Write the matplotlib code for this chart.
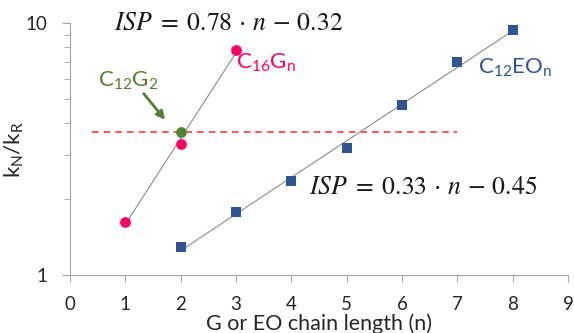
import numpy as np
import matplotlib
matplotlib.use("Agg")
import matplotlib.pyplot as plt

plt.rcParams['font.family'] = ['Lato', 'DejaVu Sans']
plt.rcParams['mathtext.fontset'] = 'custom'
plt.rcParams['mathtext.rm'] = 'Lato'
plt.rcParams['mathtext.it'] = 'Lato:italic'

# data
g_n = [1, 2, 3]
g_ratio = [1.63, 3.32, 7.81]
eo_n = [2, 3, 4, 5, 6, 7, 8]
eo_ratio = [1.29, 1.78, 2.37, 3.20, 4.71, 6.98, 9.38]
c12g2_n = [2]
c12g2_ratio = [3.68]
ref_level = 3.68
ref_span = [0.4, 7.0]
xticks = list(range(0, 10))

pink = '#FF0066'
blue = '#2F5597'
green = '#548235'

fig = plt.figure(figsize=(5.74, 3.33), dpi=100)
ax = fig.add_axes([0.122, 0.174, 0.8675, 0.757])
ax.set_yscale('log')
ax.set_xlim(0, 9)
ax.set_ylim(1, 10)

# trendlines (exponential fits)
for xs, ys in [(g_n, g_ratio), (eo_n, eo_ratio)]:
    p = np.polyfit(xs, np.log(ys), 1)
    xx = np.linspace(min(xs), max(xs), 50)
    ax.plot(xx, np.exp(np.polyval(p, xx)), color='#8c8c8c', lw=0.8, zorder=2)

ax.plot(ref_span, [ref_level, ref_level], color='#FF3B3B', lw=1.2,
        dashes=(4, 3), zorder=1)

ax.scatter(g_n, g_ratio, s=60, color=pink, zorder=3, linewidths=0)
ax.scatter(c12g2_n, c12g2_ratio, s=60, color=green, zorder=4, linewidths=0)
ax.scatter(eo_n, eo_ratio, s=62, marker='s', color=blue, zorder=3, linewidths=0)

# axes styling
for s in ['top', 'right']:
    ax.spines[s].set_visible(False)
for s in ['left', 'bottom']:
    ax.spines[s].set_color('#a6a6a6')
ax.set_xticks(xticks)
ax.set_xticklabels([str(t) for t in xticks])
ax.set_yticks([1, 10])
ax.set_yticklabels(['1', '10'])
ax.tick_params(axis='both', which='both', color='#a6a6a6', labelsize=13.5,
               labelcolor='#262626')
ax.tick_params(axis='y', which='major', length=6, pad=10)
ax.tick_params(axis='y', which='minor', length=4)
ax.tick_params(axis='x', which='major', length=5, pad=10)
ax.yaxis.set_minor_formatter(matplotlib.ticker.NullFormatter())

ax.set_xlabel('G or EO chain length (n)', fontsize=15.5, color='#262626')
ax.xaxis.set_label_coords(0.5, -0.152)
ax.set_ylabel(r'k$_\mathrm{N}$/k$_\mathrm{R}$', fontsize=16, color='#262626', labelpad=0)
ax.yaxis.set_label_coords(-0.088, 0.5)

# annotations
fig.text(114/574, 1 - 22/333, r'$ISP\;=\;0.78\,\cdot\,n\,-\,0.32$', fontsize=18.5,
         math_fontfamily='stix', va='center', ha='left', color='#1a1a1a')
fig.text(309/574, 1 - 187/333, r'$ISP\;=\;0.33\,\cdot\,n\,-\,0.45$', fontsize=18.5,
         math_fontfamily='stix', va='center', ha='left', color='#1a1a1a')
fig.text(236/574, 1 - 63/333, r'C$_{16}$G$_\mathrm{n}$', fontsize=16, color=pink,
         va='center', ha='left')
fig.text(478/574, 1 - 68/333, r'C$_{12}$EO$_\mathrm{n}$', fontsize=16, color=blue,
         va='center', ha='left')
fig.text(98/574, 1 - 81/333, r'C$_{12}$G$_2$', fontsize=16, color=green,
         va='center', ha='left')
ax.annotate('', xy=(1.75, 4.05), xytext=(1.3, 5.35),
            arrowprops=dict(arrowstyle='-|>', color=green, lw=2, mutation_scale=12))

fig.savefig('out.png', dpi=100)
